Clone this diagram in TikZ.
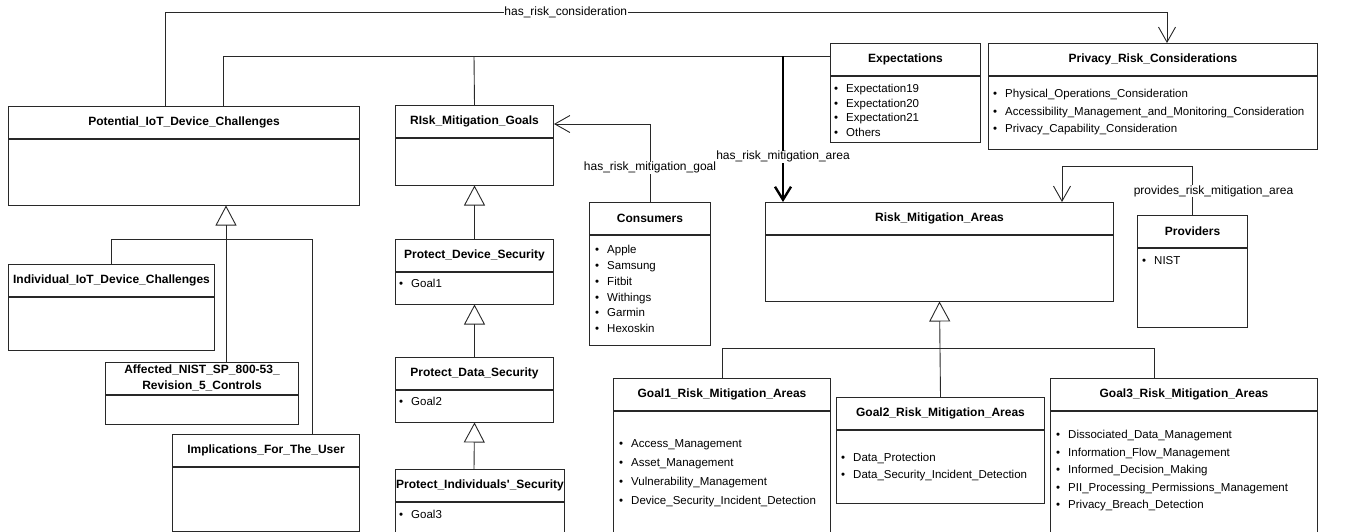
\documentclass[tikz,border=0pt]{standalone}
\usepackage{fontspec}
\setmainfont{Liberation Sans}
\usetikzlibrary{arrows.meta, positioning}
\definecolor{UMLLine}{RGB}{40, 40, 40}
\newcommand{\bul}{\textbullet\hspace{8pt}}

\begin{document}
\begin{tikzpicture}[
    x=1pt, y=-1pt,
    head/.style={rectangle, draw=UMLLine, fill=white, line width=1pt, inner sep=0pt, minimum height=31.5pt, anchor=north west, align=center, font=\bfseries\fontsize{12}{16}\selectfont},
    body/.style={rectangle, draw=UMLLine, fill=white, line width=1pt, inner sep=0pt, anchor=north},
    itemlist/.style={anchor=west, align=left, inner sep=0pt, font=\fontsize{11.5}{17.5}\selectfont},
    lbl/.style={fill=white, inner sep=0.5pt, font=\fontsize{12}{14}\selectfont},
    link/.style={draw=UMLLine, line width=0.9pt},
    assoc/.style={link, -{Straight Barb[length=15pt, width=17pt]}},
    strong/.style={draw=black, line width=2.4pt, -{Straight Barb[length=13pt, width=16pt]}},
    gen/.style={link, -{Triangle[open, length=20pt, width=21pt]}}
  ]
    \useasboundingbox (0,0) rectangle (1346,531);
    \clip (0,0) rectangle (1346,531);

    % Challenges
    \node[head, minimum width=351pt] (pidc) at (8,106) {Potential\_IoT\_Device\_Challenges};
    \node[body, minimum width=351pt, minimum height=66pt] (pidcb) at (pidc.south) {};
    \node[head, minimum width=206pt] (iidc) at (8,264) {Individual\_IoT\_Device\_Challenges};
    \node[body, minimum width=206pt, minimum height=53pt] (iidcb) at (iidc.south) {};
    \node[head, minimum width=193pt] (anc) at (105,362) {Affected\_NIST\_SP\_800-53\_\\Revision\_5\_Controls};
    \node[body, minimum width=193pt, minimum height=29pt] (ancb) at (anc.south) {};
    \node[head, minimum width=187pt] (ifu) at (172,434) {Implications\_For\_The\_User};
    \node[body, minimum width=187pt, minimum height=64pt] (ifub) at (ifu.south) {};

    % Goals
    \node[head, minimum width=158pt] (rmg) at (395,105) {RIsk\_Mitigation\_Goals};
    \node[body, minimum width=158pt, minimum height=47pt] (rmgb) at (rmg.south) {};
    \node[head, minimum width=158pt] (pds) at (395,239) {Protect\_Device\_Security};
    \node[body, minimum width=158pt, minimum height=32pt] (pdsb) at (pds.south) {};
    \node[itemlist] (pdsl) at (399,283) {\bul Goal1};
    \node[head, minimum width=158pt] (pdata) at (395,357) {Protect\_Data\_Security};
    \node[body, minimum width=158pt, minimum height=32pt] (pdatab) at (pdata.south) {};
    \node[itemlist] (pdatal) at (399,401) {\bul Goal2};
    \node[head, minimum width=169pt] (pis) at (395,469) {Protect\_Individuals\textquotesingle\_Security};
    \node[body, minimum width=169pt, minimum height=80pt] (pisb) at (pis.south) {};
    \node[itemlist] (pisl) at (399,514) {\bul Goal3};

    % Consumers, providers, expectations
    \node[head, minimum width=121pt] (cons) at (589,202) {Consumers};
    \node[body, minimum width=121pt, minimum height=110pt] (consb) at (cons.south) {};
    \node[itemlist, font=\fontsize{11.5}{15.8}\selectfont] (consl) at (595,289) {\bul Apple\\\bul Samsung\\\bul Fitbit\\\bul Withings\\\bul Garmin\\\bul Hexoskin};
    \node[head, minimum width=150pt] (expt) at (830,43) {Expectations};
    \node[body, minimum width=150pt, minimum height=66pt] (exptb) at (expt.south) {};
    \node[itemlist, font=\fontsize{11.5}{14.6}\selectfont] (exptl) at (834,110.5) {\bul Expectation19\\\bul Expectation20\\\bul Expectation21\\\bul Others};
    \node[head, minimum width=329pt] (prc) at (988,43) {Privacy\_Risk\_Considerations};
    \node[body, minimum width=329pt, minimum height=73pt] (prcb) at (prc.south) {};
    \node[itemlist] (prcl) at (993,112.5) {\bul Physical\_Operations\_Consideration\\\bul Accessibility\_Management\_and\_Monitoring\_Consideration\\\bul Privacy\_Capability\_Consideration};
    \node[head, minimum width=110pt] (prov) at (1137,215) {Providers};
    \node[body, minimum width=110pt, minimum height=79pt] (provb) at (prov.south) {};
    \node[itemlist] (provl) at (1142,261) {\bul NIST};

    % Areas
    \node[head, minimum width=348pt] (rma) at (765,202) {Risk\_Mitigation\_Areas};
    \node[body, minimum width=348pt, minimum height=66pt] (rmab) at (rma.south) {};
    \node[head, minimum width=217pt] (g1) at (613,378) {Goal1\_Risk\_Mitigation\_Areas};
    \node[body, minimum width=217pt, minimum height=140pt] (g1b) at (g1.south) {};
    \node[itemlist, font=\fontsize{11.5}{19}\selectfont] (g1l) at (619,473.5) {\bul Access\_Management\\\bul Asset\_Management\\\bul Vulnerability\_Management\\\bul Device\_Security\_Incident\_Detection};
    \node[head, minimum width=208pt] (g2) at (836,397) {Goal2\_Risk\_Mitigation\_Areas};
    \node[body, minimum width=208pt, minimum height=73pt] (g2b) at (g2.south) {};
    \node[itemlist, font=\fontsize{11.5}{17}\selectfont] (g2l) at (841,467.5) {\bul Data\_Protection\\\bul Data\_Security\_Incident\_Detection};
    \node[head, minimum width=267pt] (g3) at (1050,378) {Goal3\_Risk\_Mitigation\_Areas};
    \node[body, minimum width=267pt, minimum height=140pt] (g3b) at (g3.south) {};
    \node[itemlist] (g3l) at (1056,471) {\bul Dissociated\_Data\_Management\\\bul Information\_Flow\_Management\\\bul Informed\_Decision\_Making\\\bul PII\_Processing\_Permissions\_Management\\\bul Privacy\_Breach\_Detection};

    % Associations
    \draw[assoc] (165,0 |- pidc.north) |- node[lbl, pos=0.7] {has\_risk\_consideration} (1167,12) -- (1167,0 |- prc.north);
    \draw[link] (223,0 |- pidc.north) |- (expt.west |- 0,56);
    \draw[link] (474,56) -- (rmg.north);
    \draw[assoc] (cons.north) |- node[lbl, pos=0.22] {has\_risk\_mitigation\_goal} (rmg.east |- 0,124);
    \draw[strong] (783,56) -- node[lbl, pos=0.69] {has\_risk\_mitigation\_area} (783,0 |- rma.north);
    \draw[assoc] (prov.north) |- node[lbl, pos=0.245, xshift=21pt] {provides\_risk\_mitigation\_area} (1062,166) -- (1062,0 |- rma.north);

    % Generalisations
    \draw[gen] (226,0 |- anc.north) -- (226,0 |- pidcb.south);
    \draw[link] (iidc.north) |- (312,239) -- (312,0 |- ifu.north);
    \draw[gen] (pds.north) -- (rmgb.south);
    \draw[gen] (pdata.north) -- (pdsb.south);
    \draw[gen] (474,0 |- pis.north) -- (pdatab.south);
    \draw[gen] (g2.north) -- (rmab.south);
    \draw[link] (722,0 |- g1.north) |- (1154,348) -- (1154,0 |- g3.north);
\end{tikzpicture}
\end{document}
